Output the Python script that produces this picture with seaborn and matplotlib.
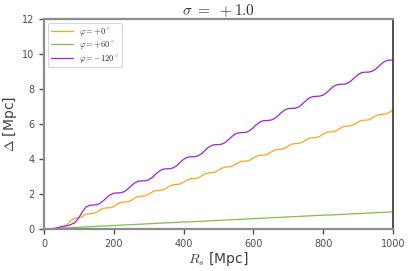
import numpy as np
import pandas as pd
import seaborn as sns
from matplotlib import pyplot as plt

# Separation Delta vs source distance R_s, three viewing angles
rs = list(range(0, 1001, 10))

delta_phi0 = [
    0.00, 0.00, 0.00, 0.00, 0.01, 0.05, 0.15, 0.33, 0.52, 0.62,
    0.64, 0.70, 0.84, 0.87, 0.88, 0.95, 1.08, 1.18, 1.21, 1.21,
    1.29, 1.42, 1.52, 1.54, 1.55, 1.63, 1.77, 1.86, 1.87, 1.89,
    1.98, 2.11, 2.19, 2.21, 2.23, 2.32, 2.45, 2.53, 2.54, 2.57,
    2.67, 2.80, 2.87, 2.88, 2.91, 3.01, 3.14, 3.20, 3.21, 3.24,
    3.36, 3.48, 3.54, 3.55, 3.59, 3.70, 3.82, 3.88, 3.88, 3.93,
    4.05, 4.17, 4.21, 4.22, 4.27, 4.39, 4.51, 4.55, 4.55, 4.61,
    4.74, 4.85, 4.88, 4.89, 4.95, 5.08, 5.19, 5.21, 5.22, 5.29,
    5.42, 5.53, 5.55, 5.56, 5.64, 5.77, 5.86, 5.88, 5.90, 5.98,
    6.11, 6.20, 6.22, 6.23, 6.33, 6.46, 6.54, 6.55, 6.57, 6.67,
    6.80,
]

delta_phi60 = [
    0.00, 0.01, 0.02, 0.03, 0.04, 0.05, 0.06, 0.07, 0.08, 0.09,
    0.10, 0.11, 0.12, 0.13, 0.14, 0.15, 0.16, 0.17, 0.18, 0.19,
    0.20, 0.21, 0.22, 0.23, 0.24, 0.25, 0.26, 0.27, 0.28, 0.29,
    0.30, 0.31, 0.32, 0.33, 0.34, 0.35, 0.36, 0.37, 0.38, 0.39,
    0.40, 0.40, 0.41, 0.42, 0.43, 0.44, 0.45, 0.46, 0.47, 0.48,
    0.49, 0.50, 0.51, 0.52, 0.53, 0.54, 0.55, 0.56, 0.57, 0.58,
    0.59, 0.60, 0.61, 0.62, 0.63, 0.64, 0.65, 0.66, 0.67, 0.68,
    0.69, 0.70, 0.71, 0.72, 0.73, 0.74, 0.75, 0.76, 0.77, 0.78,
    0.79, 0.80, 0.80, 0.81, 0.82, 0.83, 0.84, 0.85, 0.86, 0.87,
    0.88, 0.89, 0.90, 0.91, 0.92, 0.93, 0.94, 0.95, 0.96, 0.97,
    0.98,
]

delta_phi_m120 = [
    0.00, 0.00, 0.01, 0.03, 0.08, 0.14, 0.17, 0.20, 0.28, 0.38,
    0.65, 0.98, 1.25, 1.35, 1.37, 1.38, 1.46, 1.61, 1.80, 1.96,
    2.04, 2.06, 2.07, 2.13, 2.28, 2.47, 2.63, 2.73, 2.75, 2.75,
    2.81, 2.94, 3.13, 3.30, 3.41, 3.44, 3.44, 3.49, 3.61, 3.80,
    3.98, 4.09, 4.13, 4.13, 4.17, 4.28, 4.46, 4.65, 4.77, 4.82,
    4.82, 4.85, 4.95, 5.13, 5.31, 5.45, 5.50, 5.51, 5.53, 5.63,
    5.79, 5.98, 6.13, 6.19, 6.20, 6.22, 6.30, 6.46, 6.65, 6.80,
    6.88, 6.89, 6.90, 6.97, 7.13, 7.32, 7.48, 7.56, 7.58, 7.59,
    7.65, 7.79, 7.98, 8.15, 8.24, 8.27, 8.27, 8.33, 8.46, 8.65,
    8.82, 8.93, 8.96, 8.96, 9.01, 9.13, 9.31, 9.49, 9.61, 9.65,
    9.65,
]

labels = [r'$\varphi=+0^\circ$', r'$\varphi=+60^\circ$', r'$\varphi=-120^\circ$']
colors = ['#ffa31a', '#7fbf4f', '#a020e0']

df = pd.concat([
    pd.DataFrame({'Rs': rs, 'Delta': delta_phi0, 'phi': labels[0]}),
    pd.DataFrame({'Rs': rs, 'Delta': delta_phi60, 'phi': labels[1]}),
    pd.DataFrame({'Rs': rs, 'Delta': delta_phi_m120, 'phi': labels[2]}),
])

sns.set_style('ticks')
plt.rcParams['mathtext.fontset'] = 'cm'

fig = plt.figure(figsize=(4.11, 2.71), dpi=100)
ax = fig.add_axes([0.107, 0.155, 0.849, 0.775])

sns.lineplot(data=df, x='Rs', y='Delta', hue='phi', palette=colors,
             linewidth=0.9, ax=ax)

ax.set_xlim(0, 1000)
ax.set_ylim(0, 12)
ax.set_xticks([0, 200, 400, 600, 800, 1000])
ax.set_yticks([0, 2, 4, 6, 8, 10, 12])
ax.tick_params(labelsize=7, colors='0.3', length=3.5, width=1, direction='out')

for side in ['left', 'bottom', 'top']:
    ax.spines[side].set_color('0.55')
    ax.spines[side].set_linewidth(1.6)
ax.spines['right'].set_color('0.2')
ax.spines['right'].set_linewidth(1.2)

ax.set_xlabel(r'$R_s$ [Mpc]', fontsize=10, color='0.25', labelpad=1)
ax.set_ylabel(r'$\Delta$ [Mpc]', fontsize=10, color='0.25', labelpad=2)
ax.set_title(r'$\sigma\ =\ +1.0$', fontsize=11, color='0.2', pad=3)

leg = ax.legend(loc='upper left', fontsize=6, frameon=True, handlelength=2.6,
                borderpad=0.35, labelspacing=0.15, fancybox=True)
leg.set_title(None)
leg.get_frame().set_edgecolor('0.8')
leg.get_frame().set_linewidth(0.8)

fig.savefig('out.png', dpi=100)
